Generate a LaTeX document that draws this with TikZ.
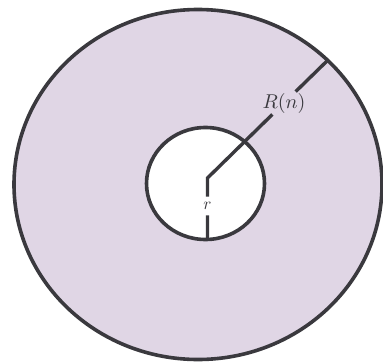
\documentclass[tikz,border=0pt]{standalone}
\usepackage{tikz}
\definecolor{ringfill}{RGB}{224,214,229}
\definecolor{inkgray}{RGB}{58,57,62}
\tikzset{
  ringline/.style={draw=inkgray, line width=3.6pt},
  radline/.style={draw=inkgray, line width=3.4pt},
  lbl/.style={inner xsep=0.5pt, inner ysep=0.5pt, text=inkgray, scale=2},
  rlbl/.style={inner xsep=0.5pt, inner ysep=3.2pt, text=inkgray, scale=1.7}
}
\begin{document}
\begin{tikzpicture}[x=1pt,y=-1pt]
\useasboundingbox (0,0) rectangle (383,364);
\clip (0,0) rectangle (383,364);
\fill[white] (0,0) rectangle (383,364);
% outer ring
\path[ringline, fill=ringfill] (198,184.5) ellipse [x radius=184, y radius=175];
% inner hole
\path[ringline, fill=white] (205.5,183.5) ellipse [x radius=59, y radius=56];
% coordinates
\coordinate (bend) at (207.5,178);
\coordinate (outer) at (328.5,59.5);
\coordinate (bot) at (207.5,240);
\node[lbl] (Rn) at (284,103) {$R(n)$};
\node[rlbl] (r) at (207.5,206) {$r$};
% radii
\draw[radline] (r) -- (bend) -- (Rn);
\draw[radline] (Rn) -- (outer);
\draw[radline] (r) -- (bot);
\end{tikzpicture}
\end{document}
